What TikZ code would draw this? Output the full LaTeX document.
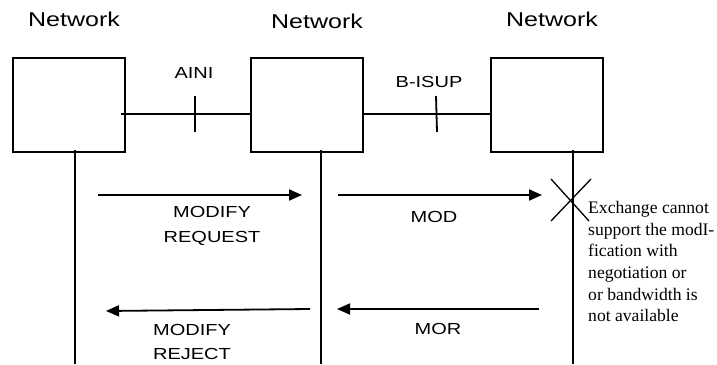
\documentclass[tikz,border=0pt]{standalone}
\usepackage{fontspec}
\setmainfont{Liberation Serif}
\newfontfamily\arialfont{Liberation Sans}[FakeStretch=1.25]
\usetikzlibrary{arrows.meta}

\begin{document}
\begin{tikzpicture}[
    x=1pt, y=-1pt,
    exch/.style={draw, line width=1.8pt, minimum width=112pt, minimum height=94pt, inner sep=0pt, outer sep=0pt},
    netlabel/.style={font=\arialfont\fontsize{20}{24}\selectfont, inner sep=0pt, anchor=base},
    siglabel/.style={font=\arialfont\fontsize{16}{24.5}\selectfont, inner sep=0pt, anchor=base, align=center},
    note/.style={font=\fontsize{17.6}{21.7}\selectfont, inner sep=0pt, anchor=base west, align=left},
    link/.style={line width=1.8pt},
    lifeline/.style={line width=1.8pt},
    msg/.style={-{Triangle[length=13pt, width=11pt]}, line width=1.8pt},
    cross/.style={line width=1.3pt}
]
\useasboundingbox (0,0) rectangle (717,364);

% exchanges
\node[exch] (exA) at (69,105) {};
\node[exch] (exB) at (306.7,105) {};
\node[exch, minimum width=112.6pt] (exC) at (547,105) {};

\node[netlabel] (netA) at (74,26.7) {Network};
\node[netlabel] (netB) at (317,28.3) {Network};
\node[netlabel] (netC) at (552,26.5) {Network};

% interfaces
\draw[link] ([xshift=-4.3pt, yshift=-9pt]exA.east) -- ([yshift=-9pt]exB.west);
\draw[link] ([yshift=-9pt]exB.east) -- ([yshift=-9pt]exC.west);
\coordinate (ainiT) at (195,96);
\coordinate (ainiB) at (195,132);
\coordinate (bisupT) at (436,96);
\coordinate (bisupB) at (437,132);
\draw[link] (ainiT) -- (ainiB);
\draw[link] (bisupT) -- (bisupB);
\node[siglabel] (aini) at (194,78) {AINI};
\node[siglabel] (bisup) at (429,87) {B-ISUP};

% lifelines
\coordinate (topA) at (75,150);
\coordinate (endA) at (75,364);
\coordinate (topB) at (321,150);
\coordinate (endB) at (321,364);
\coordinate (topC) at (573,150);
\coordinate (endC) at (573,364);
\draw[lifeline] (topA) -- (endA);
\draw[lifeline] (topB) -- (endB);
\draw[lifeline] (topC) -- (endC);

% messages
\coordinate (reqS) at (98,195);
\coordinate (reqE) at (302,195);
\coordinate (modS) at (338,195);
\coordinate (modE) at (542,195);
\coordinate (rejS) at (310,309);
\coordinate (rejE) at (106,311);
\coordinate (morS) at (539,309);
\coordinate (morE) at (337,309);
\draw[msg] (reqS) -- (reqE);
\draw[msg] (modS) -- (modE);
\draw[msg] (rejS) -- (rejE);
\draw[msg] (morS) -- (morE);

\node[siglabel] (req) at (212,242.2) {MODIFY\\REQUEST};
\node[siglabel] (mod) at (434,222.7) {MOD};
\node[siglabel] (rej) at (192,359.5) {MODIFY\\REJECT};
\node[siglabel] (mor) at (438,334) {MOR};

% failure
\draw[cross] (551,179) -- (589,221);
\draw[cross] (551,221) -- (591,179);
\node[note] (fail) at (588,321.8) {Exchange cannot\\support the modI-\\fication with\\negotiation or\\or bandwidth is\\not available};
\end{tikzpicture}
\end{document}
